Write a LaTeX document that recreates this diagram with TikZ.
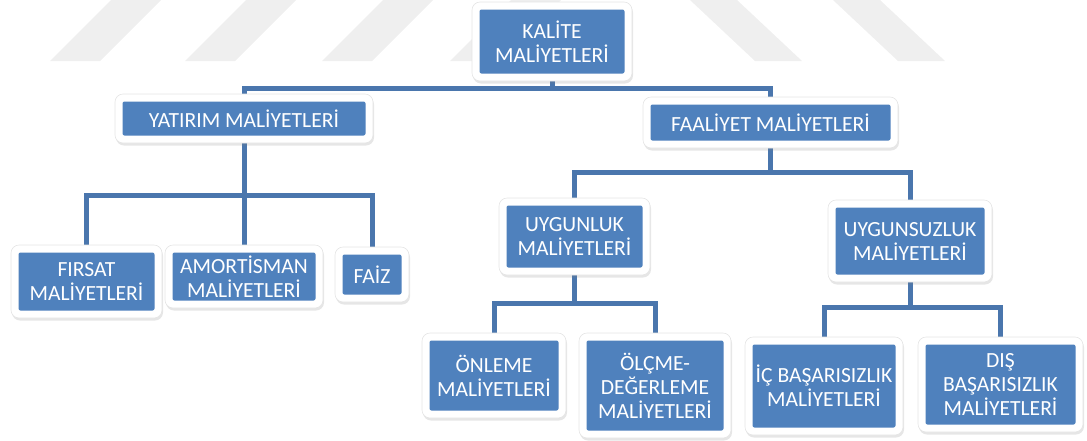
\documentclass[tikz,border=0pt]{standalone}
\usepackage{fontspec}
\setmainfont{Carlito}
\usetikzlibrary{shadows}
\pgfdeclarelayer{bg}
\pgfdeclarelayer{wm}
\pgfsetlayers{wm,bg,main}

\definecolor{boxblue}{HTML}{4F81BD}
\definecolor{linkblue}{HTML}{4A76AD}
\definecolor{wmgray}{HTML}{EFEFEF}

\tikzset{
  frame/.style={rectangle, rounded corners=8pt, fill=white, draw=black!10,
    line width=0.6pt, inner sep=0pt,
    drop shadow={shadow xshift=1pt, shadow yshift=-2.5pt, opacity=0.2}},
  core/.style={rectangle, rounded corners=2pt, fill=boxblue, text=white,
    inner sep=0pt, align=center, font=\fontsize{21.6}{24}\selectfont},
  conn/.style={draw=linkblue, line width=5pt, line join=miter, line cap=butt},
}

% name, centre x, centre y, frame width, frame height, label
\newcommand\orgbox[6]{%
  \node[frame, minimum width=#4pt, minimum height=#5pt] (#1) at (#2,#3) {};
  \node[core, minimum width={(#4-15)*1pt}, minimum height={(#5-15)*1pt}]
    (#1-in) at (#1) {#6};}

\begin{document}
\begin{tikzpicture}[x=1pt, y=-1pt]
\useasboundingbox (0,0) rectangle (1087,440);

% faint chevron watermark along the top edge
\begin{pgfonlayer}{wm}
  \foreach \b in {50,185,322,450}
    \fill[wmgray] (\b,61) -- (\b+50,61) -- (\b+111,0) -- (\b+61,0) -- cycle;
  \foreach \b in {755,898}
    \fill[wmgray] (\b,61) -- (\b+47,61) -- (\b-18,0) -- (\b-65,0) -- cycle;
\end{pgfonlayer}

% boxes
\orgbox{k}{552}{41.5}{160}{79}{KALİTE\\MALİYETLERİ}
\orgbox{y}{244}{118.5}{258}{49}{YATIRIM MALİYETLERİ}
\orgbox{f}{770.5}{122.5}{255}{51}{FAALİYET MALİYETLERİ}
\orgbox{fi}{86.5}{281.5}{151}{73}{FIRSAT\\MALİYETLERİ}
\orgbox{am}{244}{276.5}{158}{63}{AMORTİSMAN\\MALİYETLERİ}
\orgbox{fa}{372}{274.5}{74}{55}{FAİZ}
\orgbox{ug}{574.5}{236.5}{151}{77}{UYGUNLUK\\MALİYETLERİ}
\orgbox{us}{910}{241}{164}{82}{UYGUNSUZLUK\\MALİYETLERİ}
\orgbox{on}{494}{375.5}{144}{85}{ÖNLEME\\MALİYETLERİ}
\orgbox{ol}{655}{385.5}{152}{105}{ÖLÇME-\\DEĞERLEME\\MALİYETLERİ}
\orgbox{ic}{824}{386}{158}{98}{İÇ BAŞARISIZLIK\\MALİYETLERİ}
\orgbox{di}{1000.5}{384.5}{165}{95}{DIŞ\\BAŞARISIZLIK\\MALİYETLERİ}

% elbow connectors, behind the boxes
\begin{pgfonlayer}{bg}
  \draw[conn] (k.south) -- ++(0,7) -| (y.north);
  \draw[conn] (k.south) -- ++(0,7) -| (f.north);
  \foreach \c in {fi,am,fa}
    \draw[conn] (y.south) -- ++(0,52) -| (\c.north);
  \foreach \c in {ug,us}
    \draw[conn] (f.south) -- ++(0,24) -| (\c.north);
  \foreach \c in {on,ol}
    \draw[conn] (ug.south) -- ++(0,28) -| (\c.north);
  \foreach \c in {ic,di}
    \draw[conn] (us.south) -- ++(0,25) -| (\c.north);
\end{pgfonlayer}
\end{tikzpicture}
\end{document}
